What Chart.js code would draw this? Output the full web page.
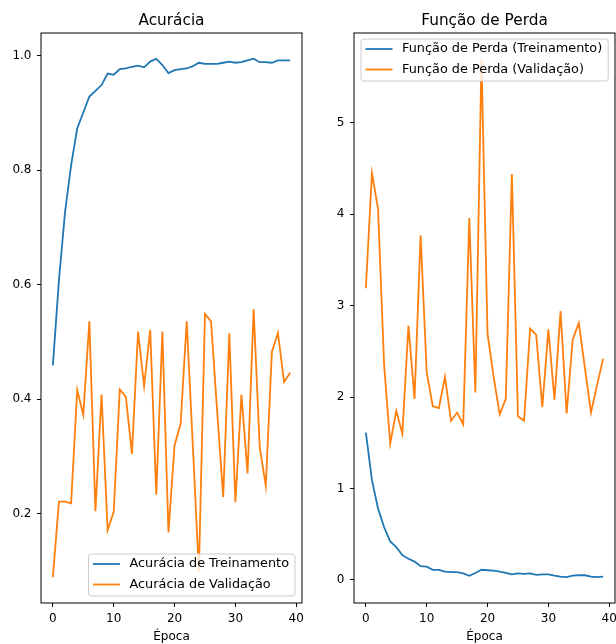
<!DOCTYPE html>
<html>
<head>
<meta charset="utf-8">
<script src="https://cdn.jsdelivr.net/npm/chart.js@4.4.1/dist/chart.umd.min.js"></script>
<style>
  body { margin: 0; background: #fff; }
  #fig { position: relative; width: 616px; height: 644px; }
  #fig canvas { position: absolute; top: 0; }
</style>
</head>
<body>
<div id="fig">
  <canvas id="accChart" width="308" height="644" style="left:0"></canvas>
  <canvas id="lossChart" width="308" height="644" style="left:308px"></canvas>
</div>
<script>
// Training history, one value per epoch
const epochs = [0, 1, 2, 3, 4, 5, 6, 7, 8, 9, 10, 11, 12, 13, 14, 15, 16, 17, 18, 19,
                20, 21, 22, 23, 24, 25, 26, 27, 28, 29, 30, 31, 32, 33, 34, 35, 36, 37, 38, 39];
const trainAcc = [0.459, 0.608, 0.727, 0.809, 0.873, 0.901, 0.929, 0.939, 0.949, 0.969,
                  0.967, 0.977, 0.978, 0.981, 0.983, 0.980, 0.990, 0.995, 0.984, 0.970,
                  0.975, 0.977, 0.978, 0.982, 0.988, 0.986, 0.986, 0.986, 0.988, 0.990,
                  0.988, 0.989, 0.992, 0.995, 0.989, 0.989, 0.988, 0.992, 0.992, 0.992];
const valAcc = [0.089, 0.221, 0.221, 0.218, 0.416, 0.373, 0.536, 0.204, 0.408, 0.171,
                0.203, 0.417, 0.404, 0.304, 0.518, 0.423, 0.521, 0.233, 0.518, 0.167,
                0.319, 0.357, 0.536, 0.32, 0.098, 0.549, 0.536, 0.38, 0.229, 0.515,
                0.220, 0.408, 0.270, 0.557, 0.316, 0.248, 0.483, 0.516, 0.430, 0.446];
const trainLoss = [1.61, 1.09, 0.78, 0.575, 0.42, 0.357, 0.27, 0.23, 0.20, 0.15,
                   0.145, 0.11, 0.11, 0.09, 0.085, 0.085, 0.07, 0.045, 0.075, 0.11,
                   0.105, 0.10, 0.09, 0.075, 0.06, 0.07, 0.065, 0.07, 0.055, 0.06,
                   0.06, 0.045, 0.035, 0.03, 0.045, 0.05, 0.05, 0.035, 0.03, 0.035];
const valLoss = [3.19, 4.45, 4.06, 2.35, 1.49, 1.85, 1.60, 2.78, 1.98, 3.77,
                 2.27, 1.90, 1.88, 2.22, 1.74, 1.83, 1.70, 3.96, 2.05, 5.70,
                 2.69, 2.22, 1.81, 1.98, 4.44, 1.79, 1.74, 2.75, 2.68, 1.89,
                 2.74, 1.97, 2.94, 1.82, 2.63, 2.81, 2.32, 1.83, 2.13, 2.42];

const epochTicks = [0, 10, 20, 30, 40];
const accTicks = [0.2, 0.4, 0.6, 0.8, 1.0];
const accTickLabels = ['0.2', '0.4', '0.6', '0.8', '1.0'];
const lossTicks = [0, 1, 2, 3, 4, 5];
const lossTickLabels = ['0', '1', '2', '3', '4', '5'];

const BLUE = '#1f77b4';
const ORANGE = '#ff7f0e';
const FONT = "'DejaVu Sans', sans-serif";

Chart.defaults.font.family = FONT;
Chart.defaults.font.size = 12;
Chart.defaults.color = '#000';

// Box around the axes, a centred title and a matplotlib-like legend
const framePlugin = {
    id: 'frame',
    afterDraw(chart, args, opts) {
        const { ctx, chartArea: a } = chart;
        ctx.save();
        ctx.strokeStyle = '#000';
        ctx.lineWidth = 1;
        ctx.strokeRect(a.left, a.top, a.right - a.left, a.bottom - a.top);

        ctx.fillStyle = '#000';
        ctx.font = `15.3px ${FONT}`;
        ctx.textAlign = 'center';
        ctx.textBaseline = 'middle';
        ctx.fillText(opts.title, (a.left + a.right) / 2, 21);

        ctx.font = `12.85px ${FONT}`;
        const items = chart.data.datasets;
        const textW = Math.max(...items.map(d => ctx.measureText(d.label).width));
        const boxW = 41 + textW + 6;
        const boxH = 42;
        let x, y;
        if (opts.legend === 'lower right') {
            x = a.right - 7 - boxW;
            y = a.bottom - 7 - boxH;
        } else {
            x = a.left + 7;
            y = a.top + 6;
        }
        ctx.beginPath();
        ctx.roundRect(x, y, boxW, boxH, 3);
        ctx.fillStyle = 'rgba(255,255,255,0.8)';
        ctx.fill();
        ctx.strokeStyle = '#cccccc';
        ctx.lineWidth = 1;
        ctx.stroke();

        ctx.textAlign = 'left';
        items.forEach((d, i) => {
            const cy = y + 10 + i * 20.5;
            ctx.strokeStyle = d.borderColor;
            ctx.lineWidth = 1.8;
            ctx.beginPath();
            ctx.moveTo(x + 4.5, cy);
            ctx.lineTo(x + 31.5, cy);
            ctx.stroke();
            ctx.fillStyle = '#000';
            ctx.fillText(d.label, x + 41, cy);
        });
        ctx.restore();
    }
};

function series(label, values, color) {
    return {
        label: label,
        data: values.map((v, i) => ({ x: epochs[i], y: v })),
        borderColor: color,
        backgroundColor: color,
        borderWidth: 1.8,
        pointRadius: 0,
        tension: 0
    };
}

function makeChart(id, opts) {
    const tickGrid = {
        drawOnChartArea: false,
        drawTicks: true,
        tickLength: 4,
        tickWidth: 1,
        tickColor: '#000'
    };
    return new Chart(document.getElementById(id), {
        type: 'line',
        data: { datasets: opts.datasets },
        options: {
            responsive: false,
            animation: false,
            devicePixelRatio: 1,
            layout: { padding: { top: 33, right: opts.padRight, left: 0, bottom: 0 } },
            plugins: {
                legend: { display: false },
                tooltip: { enabled: false },
                frame: { title: opts.title, legend: opts.legend }
            },
            scales: {
                x: {
                    type: 'linear',
                    min: -1.95,
                    max: 40.95,
                    grid: tickGrid,
                    border: { display: false },
                    ticks: { padding: 5, callback: v => String(v) },
                    afterBuildTicks: s => { s.ticks = epochTicks.map(v => ({ value: v })); },
                    afterFit: s => { s.height = 41; s.paddingLeft = 0; s.paddingRight = 0; },
                    title: { display: true, text: 'Época', padding: { top: 0, bottom: 0 } }
                },
                y: {
                    type: 'linear',
                    min: opts.yMin,
                    max: opts.yMax,
                    grid: tickGrid,
                    border: { display: false },
                    ticks: {
                        padding: 5.5,
                        callback: v => opts.yLabels[opts.yTicks.indexOf(v)]
                    },
                    afterBuildTicks: s => { s.ticks = opts.yTicks.map(v => ({ value: v })); },
                    afterFit: s => { s.width = opts.yWidth; s.paddingTop = 0; s.paddingBottom = 0; }
                }
            }
        },
        plugins: [framePlugin]
    });
}

makeChart('accChart', {
    title: 'Acurácia',
    legend: 'lower right',
    datasets: [
        series('Acurácia de Treinamento', trainAcc, BLUE),
        series('Acurácia de Validação', valAcc, ORANGE)
    ],
    yMin: 0.0437,
    yMax: 1.040,
    yTicks: accTicks,
    yLabels: accTickLabels,
    yWidth: 41,
    padRight: 6
});

makeChart('lossChart', {
    title: 'Função de Perda',
    legend: 'upper left',
    datasets: [
        series('Função de Perda (Treinamento)', trainLoss, BLUE),
        series('Função de Perda (Validação)', valLoss, ORANGE)
    ],
    yMin: -0.2535,
    yMax: 5.9835,
    yTicks: lossTicks,
    yLabels: lossTickLabels,
    yWidth: 46,
    padRight: 1
});
</script>
</body>
</html>
